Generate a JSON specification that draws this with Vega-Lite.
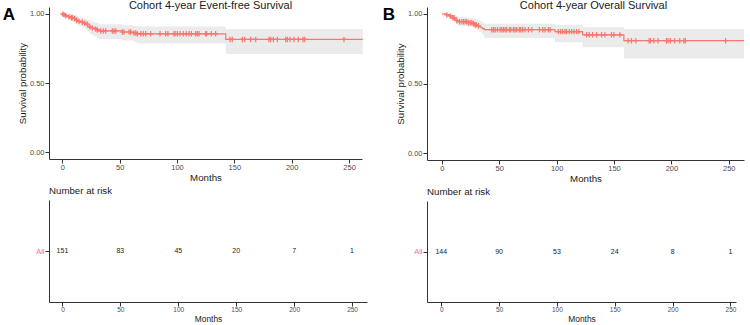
{
  "$schema": "https://vega.github.io/schema/vega-lite/v6.json",
  "background": "white",
  "padding": {"left": 2, "top": 0, "right": 0, "bottom": 0},
  "config": {
    "font": "Liberation Sans",
    "view": {"stroke": null},
    "axis": {
      "grid": false,
      "domainColor": "#333333",
      "tickColor": "#333333",
      "labelColor": "#4d4d4d",
      "titleColor": "#1a1a1a",
      "titleFontWeight": "normal",
      "tickSize": 4,
      "labelOverlap": false,
      "labelFont": "Liberation Sans",
      "titleFont": "Liberation Sans"
    },
    "title": {"fontWeight": "normal", "color": "#1a1a1a", "font": "Liberation Sans"}
  },
  "datasets": {
    "survA": [
      {"t": 0, "s": 1.000, "lo": 1.000, "hi": 1.000},
      {"t": 1.5, "s": 0.993, "lo": 0.980, "hi": 1.000},
      {"t": 3, "s": 0.987, "lo": 0.968, "hi": 1.000},
      {"t": 5, "s": 0.980, "lo": 0.958, "hi": 1.000},
      {"t": 7, "s": 0.973, "lo": 0.949, "hi": 0.999},
      {"t": 9, "s": 0.967, "lo": 0.940, "hi": 0.995},
      {"t": 11, "s": 0.960, "lo": 0.931, "hi": 0.990},
      {"t": 12.5, "s": 0.953, "lo": 0.922, "hi": 0.986},
      {"t": 14, "s": 0.946, "lo": 0.914, "hi": 0.981},
      {"t": 16, "s": 0.940, "lo": 0.905, "hi": 0.976},
      {"t": 18, "s": 0.933, "lo": 0.896, "hi": 0.971},
      {"t": 20, "s": 0.926, "lo": 0.887, "hi": 0.966},
      {"t": 22, "s": 0.912, "lo": 0.871, "hi": 0.955},
      {"t": 24, "s": 0.905, "lo": 0.855, "hi": 0.950},
      {"t": 26, "s": 0.898, "lo": 0.846, "hi": 0.944},
      {"t": 28, "s": 0.891, "lo": 0.838, "hi": 0.938},
      {"t": 30, "s": 0.884, "lo": 0.826, "hi": 0.932},
      {"t": 32, "s": 0.877, "lo": 0.818, "hi": 0.926},
      {"t": 52, "s": 0.869, "lo": 0.808, "hi": 0.918},
      {"t": 62, "s": 0.862, "lo": 0.797, "hi": 0.913},
      {"t": 65, "s": 0.856, "lo": 0.785, "hi": 0.908},
      {"t": 142.5, "s": 0.815, "lo": 0.710, "hi": 0.890},
      {"t": 262, "s": 0.815, "lo": 0.710, "hi": 0.890}
    ],
    "censA": [
      {"t": 0.5, "s": 1.000}, {"t": 1.5, "s": 0.993}, {"t": 3.0, "s": 0.987}, {"t": 5.8, "s": 0.980},
      {"t": 7.9, "s": 0.973}, {"t": 8.7, "s": 0.973}, {"t": 10.8, "s": 0.967}, {"t": 12.5, "s": 0.953},
      {"t": 14.6, "s": 0.946}, {"t": 17.5, "s": 0.940}, {"t": 19.5, "s": 0.933}, {"t": 21.8, "s": 0.926},
      {"t": 24.1, "s": 0.905}, {"t": 26.2, "s": 0.898}, {"t": 29.1, "s": 0.891}, {"t": 30.5, "s": 0.884},
      {"t": 33.5, "s": 0.877}, {"t": 35.7, "s": 0.877}, {"t": 37.8, "s": 0.877}, {"t": 43.6, "s": 0.877},
      {"t": 45.1, "s": 0.877}, {"t": 46.6, "s": 0.877}, {"t": 52.3, "s": 0.869}, {"t": 53.8, "s": 0.869},
      {"t": 58.2, "s": 0.869}, {"t": 59.6, "s": 0.869}, {"t": 62.5, "s": 0.862}, {"t": 64.0, "s": 0.862},
      {"t": 65.4, "s": 0.856}, {"t": 68.4, "s": 0.856}, {"t": 70.6, "s": 0.856}, {"t": 72.7, "s": 0.856},
      {"t": 77.1, "s": 0.856}, {"t": 85.2, "s": 0.856}, {"t": 90.1, "s": 0.856}, {"t": 92.1, "s": 0.856},
      {"t": 97.4, "s": 0.856}, {"t": 98.3, "s": 0.856}, {"t": 100.3, "s": 0.856}, {"t": 102.6, "s": 0.856},
      {"t": 105.5, "s": 0.856}, {"t": 108.1, "s": 0.856}, {"t": 110.5, "s": 0.856}, {"t": 112.5, "s": 0.856},
      {"t": 116.3, "s": 0.856}, {"t": 117.7, "s": 0.856}, {"t": 119.2, "s": 0.856}, {"t": 125.0, "s": 0.856},
      {"t": 125.9, "s": 0.856}, {"t": 129.9, "s": 0.856}, {"t": 133.7, "s": 0.856},
      {"t": 146.2, "s": 0.815}, {"t": 148.2, "s": 0.815}, {"t": 157.0, "s": 0.815}, {"t": 159.0, "s": 0.815},
      {"t": 164.2, "s": 0.815}, {"t": 168.6, "s": 0.815}, {"t": 180.2, "s": 0.815}, {"t": 181.7, "s": 0.815},
      {"t": 184.0, "s": 0.815}, {"t": 187.5, "s": 0.815}, {"t": 194.8, "s": 0.815}, {"t": 196.2, "s": 0.815},
      {"t": 198.5, "s": 0.815}, {"t": 202.0, "s": 0.815}, {"t": 205.8, "s": 0.815}, {"t": 209.9, "s": 0.815},
      {"t": 211.3, "s": 0.815}, {"t": 245.6, "s": 0.815}
    ],
    "riskA": [
      {"t": 0, "g": "All", "n": 151}, {"t": 50, "g": "All", "n": 83}, {"t": 100, "g": "All", "n": 45},
      {"t": 150, "g": "All", "n": 20}, {"t": 200, "g": "All", "n": 7}, {"t": 250, "g": "All", "n": 1}
    ],
    "survB": [
      {"t": 0, "s": 1.000, "lo": 1.000, "hi": 1.000},
      {"t": 4, "s": 0.993, "lo": 0.979, "hi": 1.000},
      {"t": 6.5, "s": 0.986, "lo": 0.967, "hi": 1.000},
      {"t": 8, "s": 0.979, "lo": 0.958, "hi": 1.000},
      {"t": 9.5, "s": 0.972, "lo": 0.949, "hi": 0.996},
      {"t": 11, "s": 0.965, "lo": 0.940, "hi": 0.992},
      {"t": 12, "s": 0.958, "lo": 0.932, "hi": 0.987},
      {"t": 13, "s": 0.951, "lo": 0.924, "hi": 0.982},
      {"t": 14.5, "s": 0.944, "lo": 0.916, "hi": 0.977},
      {"t": 22, "s": 0.937, "lo": 0.908, "hi": 0.973},
      {"t": 27, "s": 0.930, "lo": 0.900, "hi": 0.968},
      {"t": 28.5, "s": 0.922, "lo": 0.891, "hi": 0.963},
      {"t": 30.5, "s": 0.915, "lo": 0.883, "hi": 0.957},
      {"t": 32, "s": 0.908, "lo": 0.874, "hi": 0.952},
      {"t": 34, "s": 0.901, "lo": 0.862, "hi": 0.946},
      {"t": 35.5, "s": 0.894, "lo": 0.848, "hi": 0.938},
      {"t": 37, "s": 0.887, "lo": 0.828, "hi": 0.930},
      {"t": 98.5, "s": 0.873, "lo": 0.797, "hi": 0.920},
      {"t": 122.6, "s": 0.850, "lo": 0.760, "hi": 0.904},
      {"t": 158.6, "s": 0.808, "lo": 0.680, "hi": 0.892},
      {"t": 263.3, "s": 0.808, "lo": 0.680, "hi": 0.892}
    ],
    "censB": [
      {"t": 4.3, "s": 0.993}, {"t": 7.2, "s": 0.986}, {"t": 9.6, "s": 0.972}, {"t": 10.7, "s": 0.972},
      {"t": 13.0, "s": 0.951}, {"t": 15.4, "s": 0.944}, {"t": 17.4, "s": 0.944}, {"t": 18.9, "s": 0.944},
      {"t": 20.3, "s": 0.944}, {"t": 21.7, "s": 0.944}, {"t": 23.2, "s": 0.937}, {"t": 24.7, "s": 0.937},
      {"t": 26.1, "s": 0.937}, {"t": 27.6, "s": 0.930}, {"t": 29.0, "s": 0.922}, {"t": 29.9, "s": 0.922},
      {"t": 31.9, "s": 0.915},
      {"t": 43.5, "s": 0.887}, {"t": 45.0, "s": 0.887}, {"t": 46.4, "s": 0.887}, {"t": 48.4, "s": 0.887},
      {"t": 50.7, "s": 0.887}, {"t": 52.2, "s": 0.887}, {"t": 53.7, "s": 0.887}, {"t": 55.1, "s": 0.887},
      {"t": 56.5, "s": 0.887}, {"t": 58.9, "s": 0.887}, {"t": 60.0, "s": 0.887}, {"t": 62.3, "s": 0.887},
      {"t": 63.8, "s": 0.887}, {"t": 65.2, "s": 0.887}, {"t": 67.5, "s": 0.887}, {"t": 68.7, "s": 0.887},
      {"t": 70.4, "s": 0.887}, {"t": 72.5, "s": 0.887}, {"t": 75.4, "s": 0.887}, {"t": 78.3, "s": 0.887},
      {"t": 85.0, "s": 0.887}, {"t": 87.9, "s": 0.887}, {"t": 89.9, "s": 0.887}, {"t": 92.8, "s": 0.887},
      {"t": 94.3, "s": 0.887},
      {"t": 101.5, "s": 0.873}, {"t": 103.5, "s": 0.873}, {"t": 105.2, "s": 0.873}, {"t": 107.3, "s": 0.873},
      {"t": 108.7, "s": 0.873}, {"t": 111.0, "s": 0.873}, {"t": 113.0, "s": 0.873}, {"t": 115.1, "s": 0.873},
      {"t": 117.4, "s": 0.873}, {"t": 119.4, "s": 0.873},
      {"t": 126.1, "s": 0.850}, {"t": 128.4, "s": 0.850}, {"t": 131.3, "s": 0.850}, {"t": 134.8, "s": 0.850},
      {"t": 139.1, "s": 0.850}, {"t": 142.1, "s": 0.850}, {"t": 147.8, "s": 0.850}, {"t": 149.9, "s": 0.850},
      {"t": 155.1, "s": 0.850},
      {"t": 162.3, "s": 0.808}, {"t": 165.2, "s": 0.808}, {"t": 169.0, "s": 0.808}, {"t": 180.6, "s": 0.808},
      {"t": 181.7, "s": 0.808}, {"t": 184.7, "s": 0.808}, {"t": 188.4, "s": 0.808}, {"t": 195.7, "s": 0.808},
      {"t": 197.1, "s": 0.808}, {"t": 199.1, "s": 0.808}, {"t": 202.9, "s": 0.808}, {"t": 207.3, "s": 0.808},
      {"t": 210.8, "s": 0.808}, {"t": 212.2, "s": 0.808}, {"t": 247.3, "s": 0.808}
    ],
    "riskB": [
      {"t": 0, "g": "All", "n": 144}, {"t": 50, "g": "All", "n": 90}, {"t": 100, "g": "All", "n": 53},
      {"t": 150, "g": "All", "n": 24}, {"t": 200, "g": "All", "n": 8}, {"t": 250, "g": "All", "n": 1}
    ]
  },
  "spacing": 15,
  "hconcat": [
    {
      "title": {"text": "A", "orient": "left", "anchor": "end", "frame": "bounds", "angle": 0, "align": "right", "baseline": "top", "fontSize": 17, "fontWeight": "bold", "color": "#000000", "offset": 0, "dx": 10, "dy": 7},
      "spacing": 4,
      "vconcat": [
        {
          "width": 313,
          "height": 152,
          "title": {"text": "Cohort 4-year Event-free Survival", "fontSize": 11, "anchor": "middle", "frame": "group", "baseline": "bottom", "offset": 0, "dy": 15, "dx": 5},
          "layer": [
            {
              "data": {"name": "survA"},
              "mark": {"type": "area", "interpolate": "step-after", "color": "#ebebeb"},
              "encoding": {
                "x": {"field": "t", "type": "quantitative", "scale": {"domain": [-11.6, 261.3], "nice": false, "zero": false},
                      "axis": {"title": "Months", "values": [0, 50, 100, 150, 200, 250], "labelFontSize": 7.5, "titleFontSize": 9.7, "labelPadding": 0.5, "titlePadding": 1}},
                "y": {"field": "lo", "type": "quantitative", "scale": {"domain": [-0.05, 1.05], "nice": false, "zero": false},
                      "axis": {"title": "Survival probability", "values": [0, 0.25, 0.5, 0.75, 1], "format": ".2f", "labelFontSize": 7.5, "titleFontSize": 9.7, "labelPadding": 1, "titlePadding": 2}},
                "y2": {"field": "hi"}
              }
            },
            {
              "data": {"name": "survA"},
              "mark": {"type": "line", "interpolate": "step-after", "color": "#F8766D", "strokeWidth": 1.2},
              "encoding": {
                "x": {"field": "t", "type": "quantitative"},
                "y": {"field": "s", "type": "quantitative"}
              }
            },
            {
              "data": {"name": "censA"},
              "mark": {"type": "point", "shape": "M-1,0L1,0M0,-1L0,1", "filled": false, "color": "#F8766D", "strokeWidth": 1.2, "size": 30, "opacity": 1},
              "encoding": {
                "x": {"field": "t", "type": "quantitative"},
                "y": {"field": "s", "type": "quantitative"}
              }
            }
          ]
        },
        {
          "width": 318,
          "height": 102,
          "title": {"text": "Number at risk", "fontSize": 9.7, "anchor": "start", "frame": "group", "baseline": "bottom", "offset": -6},
          "data": {"name": "riskA"},
          "mark": {"type": "text", "fontSize": 7, "color": "#1a1a1a", "font": "Liberation Sans"},
          "encoding": {
            "x": {"field": "t", "type": "quantitative", "scale": {"domain": [-11.6, 262.9], "nice": false, "zero": false},
                  "axis": {"title": "Months", "values": [0, 50, 100, 150, 200, 250], "labelFontSize": 6.5, "titleFontSize": 8.4, "labelPadding": 0.5, "titlePadding": 1.5}},
            "y": {"field": "g", "type": "nominal", "scale": {"type": "point", "padding": 0.5},
                  "axis": {"title": null, "labelColor": "#F8766D", "labelFontSize": 7.5, "labelPadding": 1}},
            "text": {"field": "n", "type": "quantitative"}
          }
        }
      ]
    },
    {
      "title": {"text": "B", "orient": "left", "anchor": "end", "frame": "bounds", "angle": 0, "align": "right", "baseline": "top", "fontSize": 17, "fontWeight": "bold", "color": "#000000", "offset": 0, "dx": 12, "dy": 7},
      "spacing": 4,
      "vconcat": [
        {
          "width": 317,
          "height": 153,
          "title": {"text": "Cohort 4-year Overall Survival", "fontSize": 11, "anchor": "middle", "frame": "group", "baseline": "bottom", "offset": 0, "dy": 15, "dx": 8},
          "layer": [
            {
              "data": {"name": "survB"},
              "mark": {"type": "area", "interpolate": "step-after", "color": "#ebebeb"},
              "encoding": {
                "x": {"field": "t", "type": "quantitative", "scale": {"domain": [-13, 263.3], "nice": false, "zero": false},
                      "axis": {"title": "Months", "values": [0, 50, 100, 150, 200, 250], "labelFontSize": 7.5, "titleFontSize": 9.7, "labelPadding": 0.5, "titlePadding": 1}},
                "y": {"field": "lo", "type": "quantitative", "scale": {"domain": [-0.05, 1.05], "nice": false, "zero": false},
                      "axis": {"title": "Survival probability", "values": [0, 0.25, 0.5, 0.75, 1], "format": ".2f", "labelFontSize": 7.5, "titleFontSize": 9.7, "labelPadding": 1, "titlePadding": 2}},
                "y2": {"field": "hi"}
              }
            },
            {
              "data": {"name": "survB"},
              "mark": {"type": "line", "interpolate": "step-after", "color": "#F8766D", "strokeWidth": 1.2},
              "encoding": {
                "x": {"field": "t", "type": "quantitative"},
                "y": {"field": "s", "type": "quantitative"}
              }
            },
            {
              "data": {"name": "censB"},
              "mark": {"type": "point", "shape": "M-1,0L1,0M0,-1L0,1", "filled": false, "color": "#F8766D", "strokeWidth": 1.2, "size": 30, "opacity": 1},
              "encoding": {
                "x": {"field": "t", "type": "quantitative"},
                "y": {"field": "s", "type": "quantitative"}
              }
            }
          ]
        },
        {
          "width": 309,
          "height": 101,
          "title": {"text": "Number at risk", "fontSize": 9.7, "anchor": "start", "frame": "group", "baseline": "bottom", "offset": -6},
          "data": {"name": "riskB"},
          "mark": {"type": "text", "fontSize": 7, "color": "#1a1a1a", "font": "Liberation Sans"},
          "encoding": {
            "x": {"field": "t", "type": "quantitative", "scale": {"domain": [-12.3, 254.8], "nice": false, "zero": false},
                  "axis": {"title": "Months", "values": [0, 50, 100, 150, 200, 250], "labelFontSize": 6.5, "titleFontSize": 8.4, "labelPadding": 0.5, "titlePadding": 1.5}},
            "y": {"field": "g", "type": "nominal", "scale": {"type": "point", "padding": 0.5},
                  "axis": {"title": null, "labelColor": "#F8766D", "labelFontSize": 7.5, "labelPadding": 1}},
            "text": {"field": "n", "type": "quantitative"}
          }
        }
      ]
    }
  ]
}
